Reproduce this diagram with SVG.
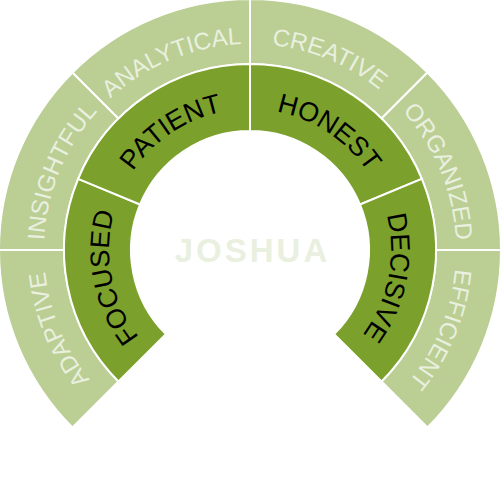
<svg xmlns="http://www.w3.org/2000/svg" xmlns:xlink="http://www.w3.org/1999/xlink" width="500" height="500" viewBox="0 0 500 500">
<style>
.outer{fill:#BBCE94;stroke:#fff;stroke-width:2}
.inner{fill:#7BA12C;stroke:#fff;stroke-width:2}
.ot{font-family:"Liberation Sans",Arial,sans-serif;font-size:24px;fill:#E9F0DF}
.it{font-family:"Liberation Sans",Arial,sans-serif;font-size:27px;fill:#000}
.name{font-family:"Liberation Sans",Arial,sans-serif;font-size:33px;font-weight:bold;fill:#E9F0DF;letter-spacing:3px}
</style>
<defs>
<path id="p-adaptive" d="M104.34,395.66 A206,206 0 0 1 44,250"/>
<path id="p-insightful" d="M44,250 A206,206 0 0 1 104.34,104.34"/>
<path id="p-analytical" d="M104.34,104.34 A206,206 0 0 1 250,44"/>
<path id="p-creative" d="M250,44 A206,206 0 0 1 395.66,104.34"/>
<path id="p-organized" d="M395.66,104.34 A206,206 0 0 1 456,250"/>
<path id="p-efficient" d="M456,250 A206,206 0 0 1 395.66,395.66"/>
<path id="p-focused" d="M150.30,349.70 A141,141 0 0 1 119.73,196.04"/>
<path id="p-patient" d="M119.73,196.04 A141,141 0 0 1 250,109"/>
<path id="p-honest" d="M250,109 A141,141 0 0 1 380.27,196.04"/>
<path id="p-decisive" d="M380.27,196.04 A141,141 0 0 1 349.70,349.70"/>
</defs>
<g id="adaptive">
<path class="outer" d="M72.52,427.48 A251,251 0 0 1 -1,250 L64,250 A186,186 0 0 0 118.48,381.52 Z"/>
<text class="ot"><textPath xlink:href="#p-adaptive" href="#p-adaptive" startOffset="50%" text-anchor="middle">ADAPTIVE</textPath></text>
</g>
<g id="insightful">
<path class="outer" d="M-1,250 A251,251 0 0 1 72.52,72.52 L118.48,118.48 A186,186 0 0 0 64,250 Z"/>
<text class="ot"><textPath xlink:href="#p-insightful" href="#p-insightful" startOffset="50%" text-anchor="middle">INSIGHTFUL</textPath></text>
</g>
<g id="analytical">
<path class="outer" d="M72.52,72.52 A251,251 0 0 1 250,-1 L250,64 A186,186 0 0 0 118.48,118.48 Z"/>
<text class="ot"><textPath xlink:href="#p-analytical" href="#p-analytical" startOffset="50%" text-anchor="middle">ANALYTICAL</textPath></text>
</g>
<g id="creative">
<path class="outer" d="M250,-1 A251,251 0 0 1 427.48,72.52 L381.52,118.48 A186,186 0 0 0 250,64 Z"/>
<text class="ot"><textPath xlink:href="#p-creative" href="#p-creative" startOffset="50%" text-anchor="middle">CREATIVE</textPath></text>
</g>
<g id="organized">
<path class="outer" d="M427.48,72.52 A251,251 0 0 1 501,250 L436,250 A186,186 0 0 0 381.52,118.48 Z"/>
<text class="ot"><textPath xlink:href="#p-organized" href="#p-organized" startOffset="50%" text-anchor="middle">ORGANIZED</textPath></text>
</g>
<g id="efficient">
<path class="outer" d="M501,250 A251,251 0 0 1 427.48,427.48 L381.52,381.52 A186,186 0 0 0 436,250 Z"/>
<text class="ot"><textPath xlink:href="#p-efficient" href="#p-efficient" startOffset="50%" text-anchor="middle">EFFICIENT</textPath></text>
</g>
<g id="focused">
<path class="inner" d="M118.48,381.52 A186,186 0 0 1 78.16,178.82 L140.06,204.46 A119,119 0 0 0 165.85,334.15 Z"/>
<text class="it"><textPath xlink:href="#p-focused" href="#p-focused" startOffset="50%" text-anchor="middle">FOCUSED</textPath></text>
</g>
<g id="patient">
<path class="inner" d="M78.16,178.82 A186,186 0 0 1 250,64 L250,131 A119,119 0 0 0 140.06,204.46 Z"/>
<text class="it"><textPath xlink:href="#p-patient" href="#p-patient" startOffset="50%" text-anchor="middle">PATIENT</textPath></text>
</g>
<g id="honest">
<path class="inner" d="M250,64 A186,186 0 0 1 421.84,178.82 L359.94,204.46 A119,119 0 0 0 250,131 Z"/>
<text class="it"><textPath xlink:href="#p-honest" href="#p-honest" startOffset="50%" text-anchor="middle">HONEST</textPath></text>
</g>
<g id="decisive">
<path class="inner" d="M421.84,178.82 A186,186 0 0 1 381.52,381.52 L334.15,334.15 A119,119 0 0 0 359.94,204.46 Z"/>
<text class="it"><textPath xlink:href="#p-decisive" href="#p-decisive" startOffset="50%" text-anchor="middle">DECISIVE</textPath></text>
</g>
<g id="joshua">
<text class="name" x="252.5" y="262" text-anchor="middle">JOSHUA</text>
</g>
</svg>
